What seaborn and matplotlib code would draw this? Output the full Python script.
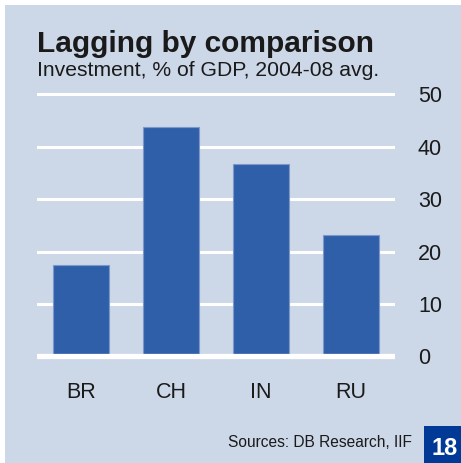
import matplotlib
matplotlib.use("Agg")
import matplotlib.pyplot as plt
import seaborn as sns
import pandas as pd
from matplotlib.patches import Rectangle

categories = ["BR", "CH", "IN", "RU"]
values = [17.4, 43.7, 36.8, 23.1]
yticks = [0, 10, 20, 30, 40, 50]

title = "Lagging by comparison"
subtitle = "Investment, % of GDP, 2004-08 avg."
source = "Sources: DB Research, IIF"
page = "18"

sns.set_theme(style="white")
plt.rcParams["font.family"] = ["Liberation Sans", "DejaVu Sans"]

W, H = 461, 463
fig = plt.figure(figsize=(W / 100, H / 100), dpi=100)
fig.patch.set_facecolor("white")
bg = "#CCD7E8"
fig.add_artist(Rectangle((5 / W, 0), (W - 5) / W, (H - 5) / H,
                         transform=fig.transFigure, facecolor=bg,
                         edgecolor="none", zorder=0))

ppu = (356.3 - 94.5) / 50.0
ylo, yhi = -1.5, 51.0
top_px = 94.5 - (yhi - 50) * ppu
bot_px = 356.3 + (0 - ylo) * ppu
ax = fig.add_axes([37 / W, (H - bot_px) / H, (395 - 37) / W, (bot_px - top_px) / H])
ax.set_facecolor("none")

df = pd.DataFrame({"cat": categories, "val": values})
sns.barplot(data=df, x="cat", y="val", color="#305FAA", width=0.627,
            saturation=1, edgecolor="#7C98C8", linewidth=0.8, ax=ax, zorder=3)

for t in yticks[1:]:
    ax.axhline(t, color="white", lw=2.2, zorder=1)
ax.axhline(0, color="white", lw=3.8, zorder=4)

ax.set_xlim(-0.49, 3.49)
ax.set_ylim(ylo, yhi)
ax.set_yticks(yticks)
ax.yaxis.tick_right()
ax.tick_params(axis="y", length=0, pad=16.5, labelsize=15.5, labelcolor="#1a1a1a")
ax.tick_params(axis="x", length=0, pad=13, labelsize=15.5, labelcolor="#1a1a1a")
ax.set_xlabel("")
ax.set_ylabel("")
for s in ax.spines.values():
    s.set_visible(False)

fig.text(37 / W, 1 - 52 / H, title, fontsize=21.5, fontweight="heavy",
         color="#1a1a1a", ha="left", va="baseline")
fig.text(37 / W, 1 - 76 / H, subtitle, fontsize=15.2,
         color="#1a1a1a", ha="left", va="baseline")
fig.text(412 / W, 1 - 447 / H, source, fontsize=11.2,
         color="#1a1a1a", ha="right", va="baseline")
fig.add_artist(Rectangle((424 / W, 0), (W - 424) / W, (H - 425.5) / H,
                         transform=fig.transFigure, facecolor="#003A96",
                         edgecolor="none", zorder=2))
fig.text(445 / W, 1 - 455 / H, page, fontsize=17, fontweight="bold",
         color="white", ha="center", va="baseline", zorder=3)

fig.savefig("out.png", dpi=100, facecolor=fig.get_facecolor())
